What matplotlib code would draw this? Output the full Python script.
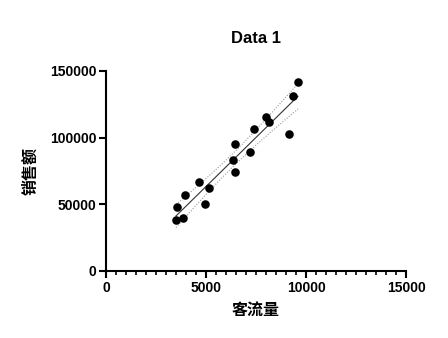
import numpy as np
import matplotlib
matplotlib.use("Agg")
import matplotlib.pyplot as plt
from matplotlib.ticker import MultipleLocator

plt.rcParams['font.family'] = ['Liberation Sans', 'Noto Sans CJK SC', 'DejaVu Sans']

traffic = [3500, 3850, 3550, 3970, 4670, 4970, 5170, 6350, 6450, 6450,
           7220, 7420, 8000, 8150, 9150, 9330, 9600]
sales = [38250, 39500, 47750, 57000, 67000, 50250, 62000, 83250, 95500, 74500,
         89250, 106250, 115250, 111500, 102500, 131250, 141750]
title = "Data 1"
xlabel = "客流量"
ylabel = "销售额"
xticks = [0, 5000, 10000, 15000]
yticks = [0, 50000, 100000, 150000]

x = np.array(traffic, float)
y = np.array(sales, float)
n = len(x)
b, a = np.polyfit(x, y, 1)
xs = np.linspace(x.min(), x.max(), 100)
yfit = a + b * xs
res = y - (a + b * x)
s = np.sqrt(np.sum(res**2) / (n - 2))
tval = 2.131
se = s * np.sqrt(1 / n + (xs - x.mean())**2 / np.sum((x - x.mean())**2))

fig = plt.figure(figsize=(4.48, 3.38), dpi=100)
ax = fig.add_axes([106/448, 1-271/338, 300/448, 200/338])
ax.scatter(x, y, s=38, color='black', zorder=3, linewidths=0)
ax.plot(xs, yfit, color='#333333', lw=0.8)
ax.plot(xs, yfit + tval*se, color='#999999', lw=0.8, ls=(0, (1, 1.5)))
ax.plot(xs, yfit - tval*se, color='#999999', lw=0.8, ls=(0, (1, 1.5)))

ax.set_xlim(0, 15000)
ax.set_ylim(0, 150000)
ax.set_xticks(xticks)
ax.set_yticks(yticks)
ax.xaxis.set_minor_locator(MultipleLocator(500))
for sp in ['top', 'right']:
    ax.spines[sp].set_visible(False)
for sp in ['left', 'bottom']:
    ax.spines[sp].set_linewidth(1.5)
ax.tick_params(which='major', length=5, width=1.5, labelsize=10, pad=2)
ax.tick_params(which='minor', length=3, width=1.2)
for lab in ax.get_xticklabels() + ax.get_yticklabels():
    lab.set_fontweight('bold')
ax.set_title(title, fontsize=12, fontweight='bold', pad=20)
ax.set_xlabel(xlabel, fontsize=11.5, fontweight='bold', family=['Noto Sans CJK SC'], labelpad=5)
ax.set_ylabel(ylabel, fontsize=11.5, fontweight='bold', family=['Noto Sans CJK SC'], labelpad=8)

fig.savefig("out.png", dpi=100)
